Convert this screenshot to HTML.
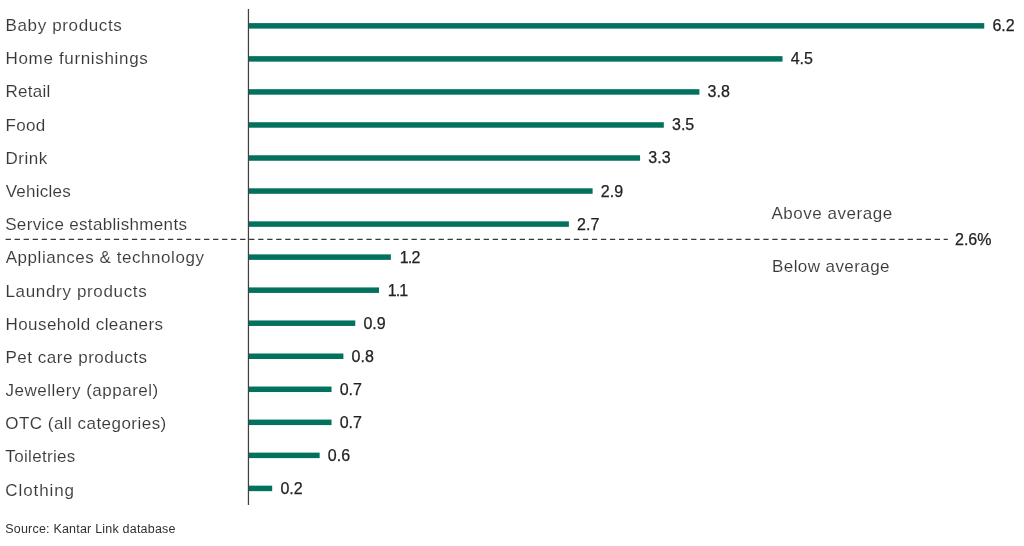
<!DOCTYPE html>
<html lang="en">
<head>
<meta charset="utf-8">
<title>Share of voice by category</title>
<style>
html,body{margin:0;padding:0;background:#fff;}
body{width:1024px;height:546px;position:relative;overflow:hidden;font-family:"Liberation Sans",sans-serif;color:#383838;}
svg{position:absolute;left:0;top:0;}
.l{position:absolute;left:6px;white-space:nowrap;font-size:17px;line-height:20px;height:20px;-webkit-text-stroke:0.1px #fff;}
.v{position:absolute;white-space:nowrap;font-size:16px;line-height:20px;height:20px;color:#222;letter-spacing:0px;-webkit-text-stroke:0.25px #222;}
.a{position:absolute;white-space:nowrap;font-size:17px;line-height:20px;height:20px;-webkit-text-stroke:0.1px #fff;}
.s{position:absolute;left:5.2px;color:#303030;white-space:nowrap;font-size:12.5px;line-height:16px;height:16px;}
</style>
</head>
<body>
<svg width="1024" height="546" viewBox="0 0 1024 546">
<rect x="248.46" y="23.10" width="735.78" height="5.5" fill="#02715d"/>
<rect x="248.46" y="56.14" width="534.04" height="5.5" fill="#02715d"/>
<rect x="248.46" y="89.18" width="450.96" height="5.5" fill="#02715d"/>
<rect x="248.46" y="122.22" width="415.36" height="5.5" fill="#02715d"/>
<rect x="248.46" y="155.26" width="391.63" height="5.5" fill="#02715d"/>
<rect x="248.46" y="188.30" width="344.16" height="5.5" fill="#02715d"/>
<rect x="248.46" y="221.34" width="320.42" height="5.5" fill="#02715d"/>
<rect x="248.46" y="254.38" width="142.41" height="5.5" fill="#02715d"/>
<rect x="248.46" y="287.42" width="130.54" height="5.5" fill="#02715d"/>
<rect x="248.46" y="320.46" width="106.81" height="5.5" fill="#02715d"/>
<rect x="248.46" y="353.50" width="94.94" height="5.5" fill="#02715d"/>
<rect x="248.46" y="386.54" width="83.07" height="5.5" fill="#02715d"/>
<rect x="248.46" y="419.58" width="83.07" height="5.5" fill="#02715d"/>
<rect x="248.46" y="452.62" width="71.20" height="5.5" fill="#02715d"/>
<rect x="248.46" y="485.66" width="23.73" height="5.5" fill="#02715d"/>
<line x1="248.45" y1="9" x2="248.45" y2="505" stroke="#404040" stroke-width="1.25"/>
<line x1="5.6" y1="239.3" x2="947.8" y2="239.3" stroke="#383838" stroke-width="1.3" stroke-dasharray="5.3 3.72"/>
</svg>
<div class="l" style="top:15.50px;left:5.5px;letter-spacing:0.641px">Baby products</div>
<div class="v" style="top:15.50px;left:992.45px">6.2</div>
<div class="l" style="top:48.50px;left:5.5px;letter-spacing:0.666px">Home furnishings</div>
<div class="v" style="top:48.50px;left:790.70px">4.5</div>
<div class="l" style="top:81.50px;left:5.5px;letter-spacing:0.28px">Retail</div>
<div class="v" style="top:81.50px;left:707.62px">3.8</div>
<div class="l" style="top:115.50px;left:5.5px;letter-spacing:0.334px">Food</div>
<div class="v" style="top:114.50px;left:672.02px">3.5</div>
<div class="l" style="top:148.50px;left:5.5px;letter-spacing:0.5px">Drink</div>
<div class="v" style="top:147.50px;left:648.29px">3.3</div>
<div class="l" style="top:181.50px;left:5.7px;letter-spacing:0.258px">Vehicles</div>
<div class="v" style="top:181.50px;left:600.82px">2.9</div>
<div class="l" style="top:214.50px;left:5.2px;letter-spacing:0.332px">Service establishments</div>
<div class="v" style="top:214.50px;left:577.08px">2.7</div>
<div class="l" style="top:247.50px;left:5.7px;letter-spacing:0.547px">Appliances &amp; technology</div>
<div class="v" style="top:247.50px;left:399.67px;letter-spacing:-0.8px">1.2</div>
<div class="l" style="top:281.50px;left:5.5px;letter-spacing:0.659px">Laundry products</div>
<div class="v" style="top:280.50px;left:387.80px;letter-spacing:-1.0px">1.1</div>
<div class="l" style="top:314.50px;left:5.5px;letter-spacing:0.424px">Household cleaners</div>
<div class="v" style="top:313.50px;left:363.47px">0.9</div>
<div class="l" style="top:347.50px;left:5.5px;letter-spacing:0.518px">Pet care products</div>
<div class="v" style="top:346.50px;left:351.60px">0.8</div>
<div class="l" style="top:380.50px;left:5.5px;letter-spacing:0.506px">Jewellery (apparel)</div>
<div class="v" style="top:379.50px;left:339.73px">0.7</div>
<div class="l" style="top:413.50px;left:5.3px;letter-spacing:0.468px">OTC (all categories)</div>
<div class="v" style="top:412.50px;left:339.73px">0.7</div>
<div class="l" style="top:446.50px;left:5.3px;letter-spacing:0.332px">Toiletries</div>
<div class="v" style="top:445.50px;left:327.87px">0.6</div>
<div class="l" style="top:480.50px;left:5.3px;letter-spacing:0.915px">Clothing</div>
<div class="v" style="top:478.50px;left:280.39px">0.2</div>
<div class="a" style="left:771.5px;top:203.5px;letter-spacing:0.524px">Above average</div>
<div class="a" style="left:772px;top:256.5px;letter-spacing:0.424px">Below average</div>
<div class="v" style="left:955px;top:229.5px;">2.6%</div>
<div class="s" style="top:520.5px;letter-spacing:0.207px">Source: Kantar Link database</div>
</body>
</html>
